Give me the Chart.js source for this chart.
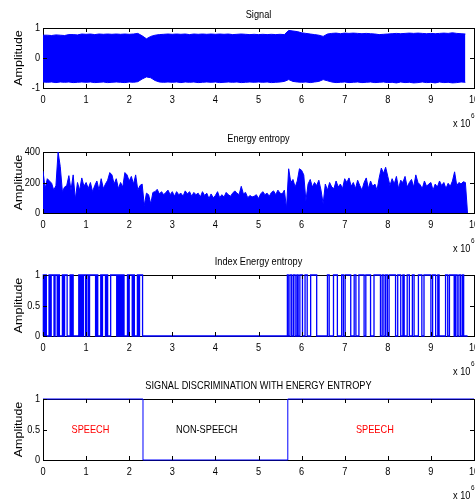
<!DOCTYPE html>
<html>
<head>
<meta charset="utf-8">
<script src="https://cdn.jsdelivr.net/npm/chart.js@4.4.0/dist/chart.umd.min.js"></script>
<style>
  html, body { margin: 0; padding: 0; background: #fff; }
  #wrap { position: relative; width: 475px; height: 502px; overflow: hidden; background: #fff; }
  #wrap canvas { position: absolute; left: 0; }
</style>
</head>
<body>
<div id="wrap">
  <canvas id="signalChart" width="520" height="132" style="top:0px"></canvas>
  <canvas id="energyChart" width="520" height="132" style="top:125px"></canvas>
  <canvas id="indexChart" width="520" height="132" style="top:250px"></canvas>
  <canvas id="discChart" width="520" height="132" style="top:375px"></canvas>
</div>
<script>
// x axis is in units of 10^6 samples
const signalStep = 0.1;
const signalUpper = [
  0.76, 0.76, 0.75, 0.77, 0.76, 0.75, 0.78, 0.78, 0.77, 0.80,
  0.79, 0.80, 0.78, 0.80, 0.79, 0.80, 0.79, 0.80, 0.79, 0.80,
  0.79, 0.80, 0.82, 0.74, 0.64, 0.72, 0.76, 0.78, 0.79, 0.80,
  0.79, 0.80, 0.79, 0.80, 0.78, 0.80, 0.79, 0.80, 0.79, 0.80,
  0.79, 0.80, 0.79, 0.80, 0.78, 0.79, 0.80, 0.79, 0.78, 0.79,
  0.78, 0.79, 0.78, 0.79, 0.78, 0.79, 0.78, 0.92, 0.90, 0.88,
  0.84, 0.82, 0.80, 0.78, 0.76, 0.72, 0.80, 0.82, 0.83, 0.81,
  0.83, 0.82, 0.83, 0.82, 0.81, 0.82, 0.81, 0.80, 0.78, 0.79,
  0.80, 0.81, 0.82, 0.81, 0.82, 0.83, 0.82, 0.83, 0.82, 0.81,
  0.82, 0.81, 0.82, 0.83, 0.82, 0.84, 0.82, 0.81, 0.80
];
const signalLower = [
  -0.80, -0.81, -0.80, -0.82, -0.80, -0.81, -0.80, -0.82, -0.81, -0.80,
  -0.81, -0.80, -0.82, -0.81, -0.80, -0.82, -0.81, -0.80, -0.81, -0.82,
  -0.80, -0.81, -0.79, -0.70, -0.63, -0.66, -0.75, -0.80, -0.81, -0.80,
  -0.81, -0.80, -0.82, -0.80, -0.81, -0.80, -0.82, -0.81, -0.80, -0.81,
  -0.80, -0.82, -0.81, -0.80, -0.81, -0.80, -0.82, -0.81, -0.80, -0.81,
  -0.80, -0.81, -0.80, -0.82, -0.81, -0.80, -0.78, -0.72, -0.78, -0.80,
  -0.81, -0.80, -0.82, -0.80, -0.78, -0.72, -0.76, -0.80, -0.82, -0.81,
  -0.80, -0.82, -0.81, -0.80, -0.82, -0.81, -0.80, -0.82, -0.81, -0.80,
  -0.82, -0.81, -0.83, -0.80, -0.82, -0.81, -0.83, -0.82, -0.80, -0.82,
  -0.81, -0.83, -0.80, -0.82, -0.81, -0.83, -0.82, -0.80, -0.81
];

const energyStep = 0.05;
const energyValues = [
  275, 160, 225, 210, 195, 150, 180, 400, 305, 140, 170, 180, 245, 150, 250, 90, 200, 150, 230, 175,
  200, 160, 200, 140, 180, 210, 150, 225, 160, 190, 215, 265, 250, 190, 225, 160, 200, 170, 265, 250,
  210, 240, 190, 250, 150, 180, 190, 50, 130, 120, 60, 135, 140, 155, 125, 140, 120, 135, 150, 120,
  140, 110, 140, 120, 130, 110, 145, 125, 140, 110, 135, 120, 130, 105, 140, 115, 130, 95, 125, 100,
  115, 140, 100, 120, 105, 135, 120, 110, 130, 145, 130, 120, 175, 125, 135, 100, 115, 105, 110, 120,
  95, 125, 140, 120, 130, 110, 135, 145, 120, 150, 130, 125, 150, 30, 290, 200, 220, 170, 210, 290,
  280, 250, 80, 190, 220, 170, 200, 180, 215, 150, 60, 190, 150, 200, 170, 160, 210, 170, 190, 160,
  225, 200, 230, 175, 200, 160, 215, 180, 150, 200, 230, 160, 210, 175, 190, 150, 230, 295, 260, 300,
  240, 180, 225, 190, 240, 160, 215, 200, 240, 170, 200, 220, 170, 250, 200, 185, 160, 210, 175, 190,
  200, 150, 190, 170, 210, 180, 200, 160, 195, 175, 210, 270, 180, 200, 190, 205, 200, 0
];

// positions where the speech index flips between 0 and 1
const indexToggles = [
  0.008, 0.03, 0.054, 0.077, 0.14, 0.16, 0.19, 0.255, 0.28, 0.33, 0.36, 0.38,
  0.45, 0.47, 0.50, 0.56, 0.63, 0.65, 0.68, 0.70, 0.83, 0.86, 0.88, 0.91, 0.94,
  0.99, 1.01, 1.05, 1.08, 1.22, 1.25, 1.27, 1.34, 1.36, 1.38, 1.45, 1.48, 1.50,
  1.57, 1.71, 1.73, 1.76, 1.79, 1.82, 1.85, 1.88, 1.96, 1.98, 2.00, 2.07, 2.10,
  2.12, 2.19, 2.21, 2.24, 2.31,
  5.67, 5.69, 5.73, 5.77, 5.81, 5.85, 5.89, 5.92, 5.96, 6.02, 6.08, 6.13, 6.21,
  6.35, 6.60, 6.64, 6.74, 6.83, 6.93, 6.97, 7.01, 7.14, 7.22, 7.26, 7.33, 7.45,
  7.49, 7.60, 7.68, 7.83, 7.87, 7.91, 7.95, 7.99, 8.03, 8.18, 8.23, 8.30, 8.35,
  8.38, 8.45, 8.50, 8.57, 8.61, 8.71, 8.79, 8.84, 9.00, 9.04, 9.11, 9.16, 9.19,
  9.34, 9.39, 9.43, 9.54, 9.57, 9.61, 9.65, 9.69, 9.73, 9.76
];
const indexEnd = 9.85;

const segmentEdges = [0, 2.32, 5.68, 10];
const segmentValues = [1, 0, 1];
const segmentLabels = ['SPEECH', 'NON-SPEECH', 'SPEECH'];
const segmentLabelX = [1.1, 3.8, 7.7];

const BLUE = '#0000ff';
const FONT = '"Liberation Sans", Arial, sans-serif';
const SQUEEZE = 0.8; // matlab text looks horizontally condensed

// condensed text, the way the original figure renders it
function squeezedText(ctx, text, x, y, align, size) {
  ctx.save();
  ctx.font = size + 'px ' + FONT;
  ctx.translate(x, y);
  ctx.scale(SQUEEZE, 1);
  ctx.textAlign = align;
  ctx.textBaseline = 'middle';
  ctx.fillText(text, 0, 0);
  ctx.restore();
}

const matlabAxes = {
  id: 'matlabAxes',
  beforeDatasetsDraw(chart) {
    const { ctx, chartArea: a } = chart;
    ctx.save();
    ctx.strokeStyle = '#000';
    ctx.lineWidth = 1;
    ctx.strokeRect(Math.round(a.left) + 0.5, Math.round(a.top) + 0.5,
      Math.round(a.right - a.left), Math.round(a.bottom - a.top));
    ctx.restore();
  },
  afterDraw(chart, args, opts) {
    const { ctx, chartArea: a, scales } = chart;
    ctx.save();
    ctx.strokeStyle = '#000';
    ctx.lineWidth = 1;
    ctx.beginPath();
    scales.x.ticks.forEach(t => {
      const px = Math.round(scales.x.getPixelForValue(t.value)) + 0.5;
      ctx.moveTo(px, a.bottom);
      ctx.lineTo(px, a.bottom - 4);
      ctx.moveTo(px, a.top);
      ctx.lineTo(px, a.top + 4);
    });
    scales.y.ticks.forEach(t => {
      const py = Math.round(scales.y.getPixelForValue(t.value)) + 0.5;
      ctx.moveTo(a.left, py);
      ctx.lineTo(a.left + 4, py);
      ctx.moveTo(a.right, py);
      ctx.lineTo(a.right - 4, py);
    });
    ctx.stroke();

    ctx.fillStyle = '#000';
    scales.x.ticks.forEach(t => {
      squeezedText(ctx, String(t.value), scales.x.getPixelForValue(t.value), a.bottom + 12, 'center', 11.5);
    });
    scales.y.ticks.forEach(t => {
      squeezedText(ctx, String(t.value), a.left - 3, scales.y.getPixelForValue(t.value), 'right', 11.5);
    });

    squeezedText(ctx, opts.title, (a.left + a.right) / 2, a.top - 13, 'center', 11.5);

    ctx.save();
    ctx.translate(19, (a.top + a.bottom) / 2);
    ctx.rotate(-Math.PI / 2);
    ctx.scale(1, SQUEEZE);
    ctx.font = '12.5px ' + FONT;
    ctx.textAlign = 'center';
    ctx.textBaseline = 'middle';
    ctx.fillText('Amplitude', 0, 0);
    ctx.restore();

    squeezedText(ctx, 'x 10', a.right - 21, a.bottom + 36, 'left', 11.5);
    squeezedText(ctx, '6', a.right - 3, a.bottom + 28, 'left', 8);

    if (opts.labels) {
      opts.labels.forEach(l => {
        ctx.fillStyle = l.color;
        squeezedText(ctx, l.text, scales.x.getPixelForValue(l.x), scales.y.getPixelForValue(l.y), 'center', 11.5);
      });
    }
    ctx.restore();
  }
};

function makeOptions(title, yMin, yMax, yStep, areaTop, areaBottom, extra) {
  return {
    responsive: false,
    animation: false,
    devicePixelRatio: 1,
    layout: { padding: { left: 0, top: areaTop, right: 46, bottom: 0 } },
    elements: { point: { radius: 0 } },
    plugins: {
      legend: { display: false },
      tooltip: { enabled: false },
      matlabAxes: Object.assign({ title: title }, extra || {})
    },
    scales: {
      x: {
        type: 'linear',
        min: 0,
        max: 10,
        grid: { display: false, drawTicks: false },
        border: { display: false },
        ticks: { stepSize: 1, autoSkip: false, display: false },
        afterFit: s => { s.height = 132 - areaBottom; }
      },
      y: {
        min: yMin,
        max: yMax,
        grid: { display: false, drawTicks: false },
        border: { display: false },
        ticks: { stepSize: yStep, autoSkip: false, display: false },
        afterFit: s => { s.width = 43; }
      }
    }
  };
}

function signalChart() {
  const upper = signalUpper.map((v, i) => ({ x: i * signalStep, y: v }));
  const lower = signalLower.map((v, i) => ({ x: i * signalStep, y: v }));
  new Chart(document.getElementById('signalChart'), {
    type: 'line',
    data: {
      datasets: [
        { data: upper, borderColor: BLUE, backgroundColor: BLUE, borderWidth: 1, fill: '+1' },
        { data: lower, borderColor: BLUE, backgroundColor: BLUE, borderWidth: 1, fill: false }
      ]
    },
    options: makeOptions('Signal', -1, 1, 1, 28, 88),
    plugins: [matlabAxes]
  });
}

function energyChart() {
  const points = energyValues.map((v, i) => ({ x: i * energyStep, y: v }));
  new Chart(document.getElementById('energyChart'), {
    type: 'line',
    data: {
      datasets: [
        { data: points, borderColor: BLUE, backgroundColor: BLUE, borderWidth: 1, fill: 'origin' }
      ]
    },
    options: makeOptions('Energy entropy', 0, 400, 200, 27, 88),
    plugins: [matlabAxes]
  });
}

function indexChart() {
  const points = [{ x: 0, y: 0 }];
  let v = 0;
  indexToggles.forEach(t => {
    v = 1 - v;
    points.push({ x: t, y: v });
  });
  points.push({ x: indexEnd, y: v });
  new Chart(document.getElementById('indexChart'), {
    type: 'line',
    data: {
      datasets: [
        { data: points, borderColor: BLUE, borderWidth: 1.3, stepped: true, fill: false, clip: false }
      ]
    },
    options: makeOptions('Index Energy entropy', 0, 1, 0.5, 25, 86),
    plugins: [matlabAxes]
  });
}

function discChart() {
  const points = segmentValues.map((v, i) => ({ x: segmentEdges[i], y: v }));
  points.push({ x: segmentEdges[segmentEdges.length - 1], y: segmentValues[segmentValues.length - 1] });
  const labels = segmentLabels.map((text, i) => ({
    text: text,
    x: segmentLabelX[i],
    y: 0.5,
    color: segmentValues[i] === 1 ? '#ff0000' : '#000000'
  }));
  new Chart(document.getElementById('discChart'), {
    type: 'line',
    data: {
      datasets: [
        { data: points, borderColor: BLUE, borderWidth: 1, stepped: true, fill: false, clip: false }
      ]
    },
    options: makeOptions('SIGNAL DISCRIMINATION WITH ENERGY ENTROPY', 0, 1, 0.5, 24, 85, { labels: labels }),
    plugins: [matlabAxes]
  });
}

signalChart();
energyChart();
indexChart();
discChart();
</script>
</body>
</html>
